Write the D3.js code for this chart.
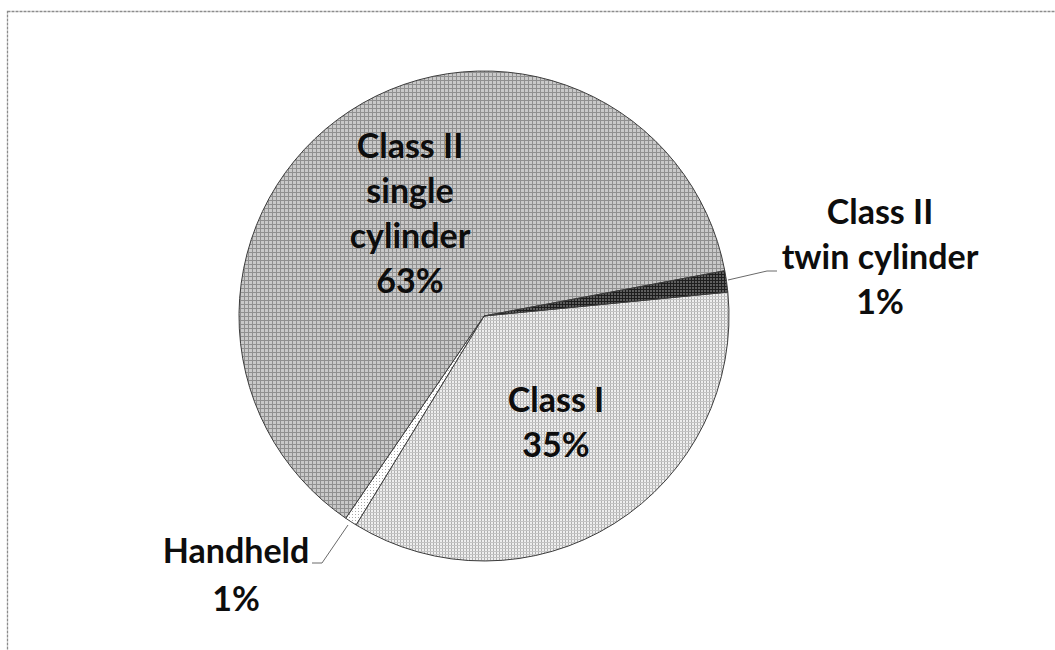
<!DOCTYPE html>
<html>
<head>
<meta charset="utf-8">
<script src="https://cdn.jsdelivr.net/npm/d3@7/dist/d3.min.js"></script>
<style>
  html, body { margin: 0; padding: 0; background: #fff; }
  svg { display: block; }
  text { font-family: Lato, "Open Sans", sans-serif; font-weight: bold; fill: #0d0d0d; }
</style>
</head>
<body>
<svg id="chart" width="1055" height="650"></svg>
<script>
// ---- data ----
const categories = ["Class I", "Handheld", "Class II single cylinder", "Class II twin cylinder"];
const values = [35.3, 0.8, 62.5, 1.4];
const percentLabels = ["35%", "1%", "63%", "1%"];
const labelLines = [["Class I"], ["Handheld"], ["Class II", "single", "cylinder"], ["Class II", "twin cylinder"]];

// ---- layout ----
const W = 1055, H = 650;
const cx = 484, cy = 316, R = 245;
const startDeg = 84.4;
const fontSize = 34;
const lineH = 45;
// first-baseline position and center x of each label block
const labelPos = [
  { x: 556, y: 412 },
  { x: 236, y: 563 },
  { x: 410, y: 158 },
  { x: 880, y: 224 }
];
const patternIds = ["pClassI", "pHand", "pSingle", "pTwin"];

const svg = d3.select("#chart");
const defs = svg.append("defs");

// patterns
function pat(id, size, bg, dots) {
  const p = defs.append("pattern").attr("id", id).attr("patternUnits", "userSpaceOnUse")
    .attr("width", size).attr("height", size);
  p.append("rect").attr("width", size).attr("height", size).attr("fill", bg);
  dots.forEach(d => p.append("rect").attr("x", d[0]).attr("y", d[1]).attr("width", d[2]).attr("height", d[3]).attr("fill", d[4]));
}
// Class II single: gray grid
pat("pSingle", 4, "#c9c9c9", [[0,0,4,1,"#909090"],[0,0,1,4,"#909090"]]);
// Class I: light dotted
pat("pClassI", 3, "#efefef", [[0,0,1,3,"#b0b0b0"],[0,1,3,1,"#c4c4c4"]]);
// Twin: dark grid
pat("pTwin", 3, "#5e5e5e", [[0,0,3,1,"#1e1e1e"],[0,0,1,3,"#1e1e1e"]]);
// Handheld: very light dots
pat("pHand", 3, "#ffffff", [[0,0,1,1,"#a8a8a8"]]);

// frame
svg.append("rect").attr("x", 7.5).attr("y", 11.5).attr("width", W + 20).attr("height", H + 20)
  .attr("fill", "none").attr("stroke", "#8c8c8c").attr("stroke-width", 1.3).attr("stroke-dasharray", "3,1");

const toRad = d => d * Math.PI / 180;
const pie = d3.pie().sort(null).startAngle(toRad(startDeg)).endAngle(toRad(startDeg + 360));
const arcs = pie(values);
const arc = d3.arc().innerRadius(0).outerRadius(R);

const g = svg.append("g").attr("transform", `translate(${cx},${cy})`);
g.selectAll("path.slice").data(arcs).join("path")
  .attr("class", "slice")
  .attr("d", arc)
  .attr("fill", (d, i) => `url(#${patternIds[i]})`)
  .attr("stroke", "#3c3c3c")
  .attr("stroke-width", 1)
  .attr("stroke-linejoin", "round");

// leader lines (outer labels)
const leaders = [
  null,
  [[348, 525], [322, 563], [312, 563]],
  null,
  [[728, 280], [767, 271], [777, 271]]
];
leaders.forEach(l => {
  if (!l) return;
  svg.append("path").attr("d", d3.line()(l)).attr("fill", "none")
    .attr("stroke", "#6a6a6a").attr("stroke-width", 1);
});

// labels
categories.forEach((c, i) => {
  const lines = labelLines[i].concat([percentLabels[i]]);
  const t = svg.append("text").attr("text-anchor", "middle").attr("font-size", fontSize);
  lines.forEach((ln, k) => {
    t.append("tspan").attr("x", labelPos[i].x).attr("y", labelPos[i].y + k * (i === 1 ? 48 : lineH)).text(ln);
  });
});
</script>
</body>
</html>
